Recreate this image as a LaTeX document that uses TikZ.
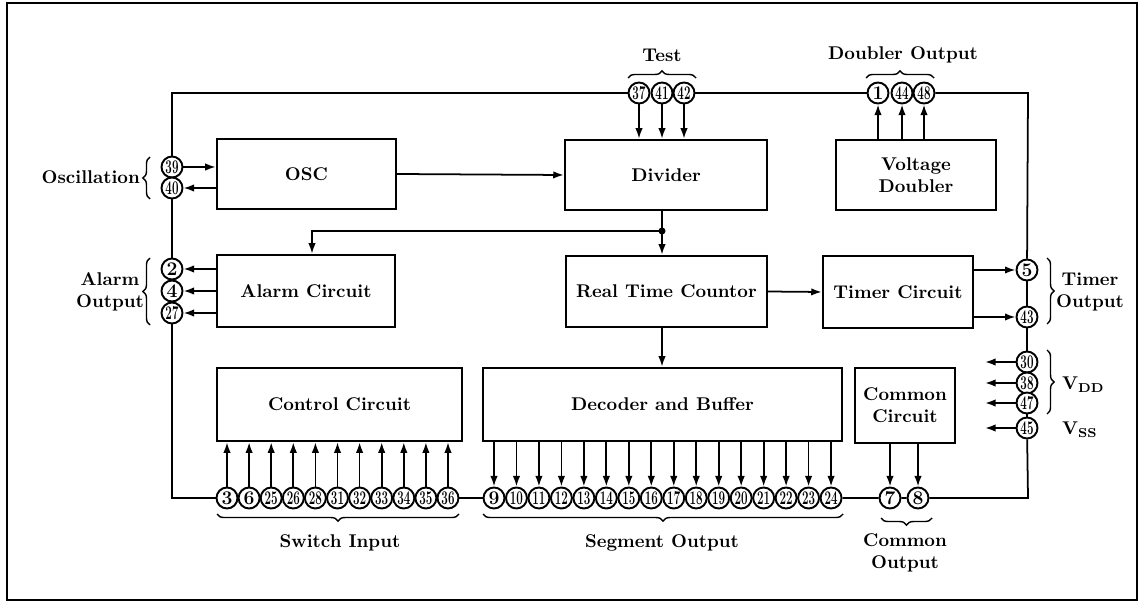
\documentclass[tikz,border=0pt]{standalone}
\usepackage{graphicx}
\usetikzlibrary{arrows.meta,positioning,decorations.pathreplacing,calc}
\newcommand{\pinno}[1]{\ifnum#1<10 #1\else\scalebox{0.6}[1]{#1}\fi}

\begin{document}
\begin{tikzpicture}[x=0.02cm, y=-0.02cm,
  blk/.style={draw, line width=1.4pt, font=\fontsize{10.5}{12.5}\selectfont\bfseries, align=center, inner sep=0pt},
  pinc/.style={circle, draw, line width=1.1pt, fill=white, minimum size=0.42cm, inner sep=0pt, font=\fontsize{11}{11}\selectfont\bfseries},
  wire/.style={line width=1pt},
  arr/.style={wire, -{Latex[length=6pt,width=4.2pt]}},
  brc/.style={decorate, decoration={brace, amplitude=4pt}, line width=0.8pt},
  lbl/.style={font=\fontsize{10.5}{12.5}\selectfont\bfseries, align=center, inner sep=1pt}]
  \useasboundingbox (0,0) rectangle (1142,604);
  \draw[line width=0.9pt] (7,3) rectangle (1137,600);

  % blocks
  \node[blk, minimum width=3.58cm, minimum height=1.4cm] (osc) at (306.5,174) {OSC};
  \node[blk, minimum width=4.04cm, minimum height=1.4cm] (div) at (666,175) {Divider};
  \node[blk, minimum width=3.2cm, minimum height=1.4cm] (vdbl) at (916,175) {Voltage\\Doubler};
  \node[blk, minimum width=3.56cm, minimum height=1.44cm] (alarm) at (306,291) {Alarm Circuit};
  \node[blk, minimum width=4.02cm, minimum height=1.42cm] (rtc) at (666.5,291.5) {Real Time Countor};
  \node[blk, minimum width=3.0cm, minimum height=1.44cm] (timer) at (898,292) {Timer Circuit};
  \node[blk, minimum width=4.9cm, minimum height=1.46cm] (ctrl) at (339.5,404.5) {Control Circuit};
  \node[blk, minimum width=7.18cm, minimum height=1.46cm] (dec) at (662.5,404.5) {Decoder and Buffer};
  \node[blk, minimum width=2.0cm, minimum height=1.5cm] (com) at (905,405.5) {Common\\Circuit};

  % pins
  \foreach \n/\y in {39/167,40/188,2/269,4/291,27/313}
    \node[pinc] (p\n) at (172,\y) {\pinno{\n}};
  \foreach \n/\x in {37/639,41/662,42/684,1/878,44/902,48/924}
    \node[pinc] (p\n) at (\x,93) {\pinno{\n}};
  \foreach \n/\y in {5/270,43/317,30/362,38/383,47/403,45/428}
    \node[pinc] (p\n) at (1027,\y) {\pinno{\n}};
  \foreach \n [count=\i from 0] in {3,6,25,26,28,31,32,33,34,35,36}
    \node[pinc] (p\n) at ({227+22.1*\i},498) {\pinno{\n}};
  \foreach \n in {9,...,24}
    \node[pinc] (p\n) at ({494+22.47*(\n-9)},498) {\pinno{\n}};
  \node[pinc] (p7) at (890,498) {7};
  \node[pinc] (p8) at (918,498) {8};

  \coordinate (tl) at (172,93);
  \coordinate (tr) at (1028,93);
  \coordinate (bl) at (172,498);
  \coordinate (br) at (1028,498);
  \coordinate (j) at (662,231);
  \coordinate (ve) at (985,0);
  \coordinate (ain) at (312,0);

  % outer bus
  \draw[wire] (p39) -- (tl) -- (p37);
  \draw[wire] (p42) -- (p1);
  \draw[wire] (p48) -- (tr) -- (p5);
  \draw[wire] (p5) -- (p43) -- (p30);
  \draw[wire] (p47) -- (p45);
  \draw[wire] (p45) -- (br) -- (p8) -- (p7) -- (p24);
  \draw[wire] (p9) -- (p36);
  \draw[wire] (p3) -- (bl) -- (p27);
  \draw[wire] (p40) -- (p2);

  % signal flow
  \draw[arr] (p39) -- (p39 -| osc.west);
  \draw[arr] (p40 -| osc.west) -- (p40);
  \draw[arr] (osc.east) -- (div.west);
  \foreach \n in {37,41,42}
    \draw[arr] (p\n) -- (p\n |- div.north);
  \foreach \n in {1,44,48}
    \draw[arr] (p\n |- vdbl.north) -- (p\n);
  \draw[wire] (j |- div.south) -- (j);
  \fill (j) circle (2pt);
  \draw[arr] (j) -- (j |- rtc.north);
  \draw[arr] (j) -| (ain |- alarm.north);
  \foreach \n in {2,4,27}
    \draw[arr] (p\n -| alarm.west) -- (p\n);
  \draw[arr] (rtc.east) -- (timer.west);
  \foreach \n in {5,43}
    \draw[arr] (p\n -| timer.east) -- (p\n);
  \foreach \n in {30,38,47,45}
    \draw[arr] (p\n) -- (p\n -| ve);
  \draw[arr] (j |- rtc.south) -- (j |- dec.north);
  \foreach \n in {3,6,25,26,28,31,32,33,34,35,36}
    \draw[arr] (p\n) -- (p\n |- ctrl.south);
  \foreach \n in {9,...,24}
    \draw[arr] (p\n |- dec.south) -- (p\n);
  \foreach \n in {7,8}
    \draw[arr] (p\n |- com.south) -- (p\n);

  % braces and labels
  \draw[brc] (628,78) -- (696,78);
  \node[lbl] (test) at (662,55) {Test};
  \draw[brc] (866,78) -- (934,78);
  \node[lbl] (dblout) at (903,55) {Doubler Output};
  \draw[brc] (150,199) -- (150,157);
  \node[lbl, anchor=east] (oscl) at (142,177) {Oscillation};
  \draw[brc] (150,325) -- (150,258);
  \node[lbl] (alout) at (110,292) {Alarm\\Output};
  \draw[brc] (1047,258) -- (1047,324);
  \node[lbl] (tmout) at (1090,292) {Timer\\Output};
  \draw[brc] (1047,350) -- (1047,414);
  \node[lbl, anchor=west] (vdd) at (1060,385) {V\textsubscript{DD}};
  \node[lbl, anchor=west] (vss) at (1060,430) {V\textsubscript{SS}};
  \draw[brc] (459,514) -- (217,514);
  \node[lbl] (swin) at (340,543) {Switch Input};
  \draw[brc] (843,514) -- (483,514);
  \node[lbl] (segout) at (662,543) {Segment Output};
  \draw[brc] (932,518) -- (881,518);
  \node[lbl] (comout) at (905,553) {Common\\Output};
\end{tikzpicture}
\end{document}
